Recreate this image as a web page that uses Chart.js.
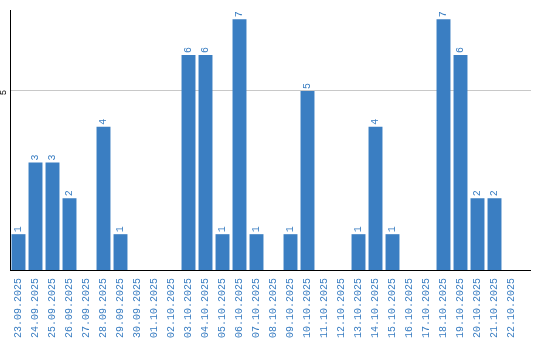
<!DOCTYPE html>
<html>
<head>
<meta charset="utf-8">
<script src="https://cdn.jsdelivr.net/npm/chart.js@4"></script>
<style>
  html, body { margin: 0; padding: 0; background: #fff; }
  #wrap { width: 540px; height: 340px; }
</style>
</head>
<body>
<div id="wrap"><canvas id="chart"></canvas></div>
<script>
const days = ['23.09.2025', '24.09.2025', '25.09.2025', '26.09.2025', '27.09.2025', '28.09.2025',
  '29.09.2025', '30.09.2025', '01.10.2025', '02.10.2025', '03.10.2025', '04.10.2025', '05.10.2025',
  '06.10.2025', '07.10.2025', '08.10.2025', '09.10.2025', '10.10.2025', '11.10.2025', '12.10.2025',
  '13.10.2025', '14.10.2025', '15.10.2025', '16.10.2025', '17.10.2025', '18.10.2025', '19.10.2025',
  '20.10.2025', '21.10.2025', '22.10.2025'];
const counts = [1, 3, 3, 2, 0, 4, 1, 0, 0, 0, 6, 6, 1, 7, 1, 0, 1, 5, 0, 0, 1, 4, 1, 0, 0, 7, 6, 2, 2, 0];
const yTicks = [5];

const blue = '#3a7ec2';
const mono = 'Liberation Mono';
const axisOverhang = 11; // the plot lines run a bit past the last category

// same rounding Chart.js uses for its own 1px lines
const crisp = (p) => Math.round(p - 0.5) + 0.5;

// numbers above the bars, rotated like the axis labels
const barLabels = {
  id: 'barLabels',
  afterDatasetsDraw(chart) {
    const ctx = chart.ctx;
    const meta = chart.getDatasetMeta(0);
    ctx.save();
    ctx.fillStyle = blue;
    ctx.font = '10px "' + mono + '"';
    ctx.textAlign = 'left';
    ctx.textBaseline = 'middle';
    meta.data.forEach((bar, i) => {
      if (!counts[i]) return;
      ctx.save();
      ctx.translate(bar.x, bar.y - 2);
      ctx.rotate(-Math.PI / 2);
      ctx.fillText(String(counts[i]), 0, 0);
      ctx.restore();
    });
    ctx.restore();
  }
};

// rotated y tick labels + the overhang of gridline and baseline
const yLabels = {
  id: 'yLabels',
  afterDraw(chart) {
    const ctx = chart.ctx;
    const y = chart.scales.y;
    const x = chart.scales.x;
    const area = chart.chartArea;
    ctx.save();
    ctx.fillStyle = '#000';
    ctx.font = '9px "' + mono + '"';
    ctx.textAlign = 'center';
    ctx.textBaseline = 'middle';
    ctx.lineWidth = 1;
    yTicks.forEach(v => {
      const py = crisp(y.getPixelForValue(v));
      ctx.save();
      ctx.translate(y.left + 4, py + 2);
      ctx.rotate(-Math.PI / 2);
      ctx.fillText(String(v), 0, 0);
      ctx.restore();
      ctx.strokeStyle = '#c8c8c8';
      ctx.beginPath();
      ctx.moveTo(area.right, py);
      ctx.lineTo(area.right + axisOverhang, py);
      ctx.stroke();
    });
    const by = crisp(x.top);
    ctx.strokeStyle = '#000';
    ctx.beginPath();
    ctx.moveTo(area.right - 1, by);
    ctx.lineTo(area.right + axisOverhang, by);
    ctx.stroke();
    ctx.restore();
  }
};

new Chart(document.getElementById('chart'), {
  type: 'bar',
  data: {
    labels: days,
    datasets: [{
      data: counts,
      backgroundColor: blue,
      barPercentage: 0.82,
      categoryPercentage: 1
    }]
  },
  options: {
    responsive: true,
    maintainAspectRatio: false,
    animation: false,
    layout: { padding: { top: 10, right: 20, left: 0, bottom: 0 } },
    plugins: { legend: { display: false }, tooltip: { enabled: false } },
    scales: {
      x: {
        afterFit(scale) { scale.height = 70; },
        grid: { display: false, drawTicks: false },
        border: { color: '#000', width: 1 },
        ticks: {
          color: blue,
          font: { family: mono, size: 10 },
          minRotation: 90,
          maxRotation: 90,
          autoSkip: false,
          padding: 8
        }
      },
      y: {
        min: 0,
        max: 7.26,
        afterFit(scale) { scale.width = 10; },
        afterBuildTicks(scale) {
          scale.ticks = yTicks.map(v => ({ value: v }));
        },
        border: { color: '#000', width: 1 },
        grid: { color: '#c8c8c8', drawTicks: false },
        ticks: { display: false }
      }
    }
  },
  plugins: [barLabels, yLabels]
});
</script>
</body>
</html>
